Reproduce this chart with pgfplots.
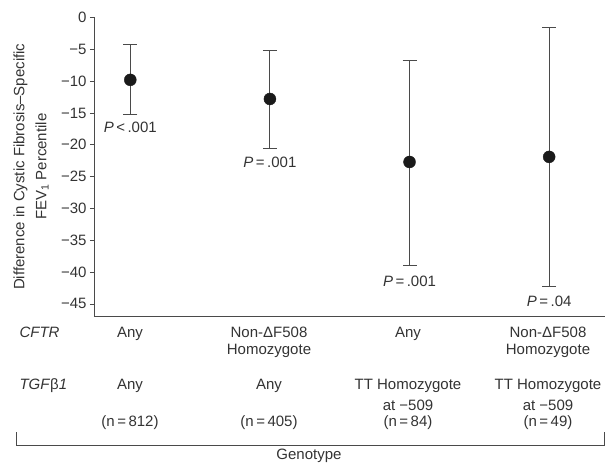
\documentclass[border=0pt]{standalone}
\usepackage{pgfplots}
\pgfplotsset{compat=1.18}
\usepackage{fontspec}
\setmainfont{Liberation Sans}
\definecolor{txt}{HTML}{333333}
\definecolor{ln}{HTML}{4A4A4A}
\definecolor{dot}{HTML}{1A1A1A}

\begin{document}
\begin{tikzpicture}[every node/.style={text=txt, font=\fontsize{15}{18}\selectfont}]
\path[use as bounding box] (-94pt,-150pt) rectangle (511pt,316pt);
\begin{axis}[
  scale only axis,
  width=511pt, height=298.5pt,
  xmin=-0.26, xmax=3.40,
  ymin=-46.9, ymax=0,
  axis x line=bottom, axis y line=left,
  axis line style={-, ln, line width=0.8pt},
  xtick=\empty,
  ytick={-45,-40,...,0},
  yticklabels={−45,−40,−35,−30,−25,−20,−15,−10,−5,0},
  tick align=outside,
  major tick length=4pt,
  tick style={ln, line width=0.8pt},
  yticklabel style={text=txt, font=\fontsize{15}{18}\selectfont},
  ylabel={Difference in Cystic Fibrosis–Specific\\FEV\textsubscript{1} Percentile},
  ylabel style={at={(axis description cs:-0.082,0.5)}, anchor=south,
    align=center, text=txt, font=\fontsize{15}{22}\selectfont},
  clip=false,
]
\addplot[only marks, mark=*, mark size=6pt, mark options={fill=dot, draw=dot},
  error bars/.cd, y dir=both, y explicit,
  error bar style={ln, line width=0.9pt},
  error mark options={rotate=90, mark size=7pt, ln, line width=0.9pt}]
coordinates {
  (0,-9.8)  += (0,5.5)  -= (0,5.5)
  (1,-12.8) += (0,7.7)  -= (0,7.7)
  (2,-22.7) += (0,16.0) -= (0,16.2)
  (3,-21.9) += (0,20.4) -= (0,20.3)
};
\node[anchor=base] at (axis cs:0,-18.1) {\textit{P}\,<\,.001};
\node[anchor=base] at (axis cs:1,-23.5) {\textit{P}\,=\,.001};
\node[anchor=base] at (axis cs:2,-42.3) {\textit{P}\,=\,.001};
\node[anchor=base] at (axis cs:3,-45.4) {\textit{P}\,=\,.04};
\end{axis}
% genotype table below the axis (pt offsets from the axis corner)
\node[anchor=base west] at (-78pt,-21pt) {\textit{CFTR}};
\node[anchor=base west] at (-78pt,-73pt) {\textit{TGF}β\textit{1}};
\node[anchor=base] at (36pt,-21pt) {Any};
\node[anchor=base] at (175pt,-21pt) {Non-ΔF508};
\node[anchor=base] at (175pt,-38pt) {Homozygote};
\node[anchor=base] at (314pt,-21pt) {Any};
\node[anchor=base] at (454pt,-21pt) {Non-ΔF508};
\node[anchor=base] at (454pt,-38pt) {Homozygote};
\node[anchor=base] at (36pt,-73pt) {Any};
\node[anchor=base] at (175pt,-73pt) {Any};
\node[anchor=base] at (314pt,-73pt) {TT Homozygote};
\node[anchor=base] at (314pt,-94pt) {at −509};
\node[anchor=base] at (454pt,-73pt) {TT Homozygote};
\node[anchor=base] at (454pt,-94pt) {at −509};
\node[anchor=base] at (36pt,-110pt) {(n\,=\,812)};
\node[anchor=base] at (175pt,-110pt) {(n\,=\,405)};
\node[anchor=base] at (314pt,-110pt) {(n\,=\,84)};
\node[anchor=base] at (454pt,-110pt) {(n\,=\,49)};
\draw[ln, line width=0.8pt] (-78pt,-116pt) -- (-78pt,-129pt) -- (510pt,-129pt) -- (510pt,-116pt);
\node[anchor=base] at (215pt,-143pt) {Genotype};
\end{tikzpicture}
\end{document}
